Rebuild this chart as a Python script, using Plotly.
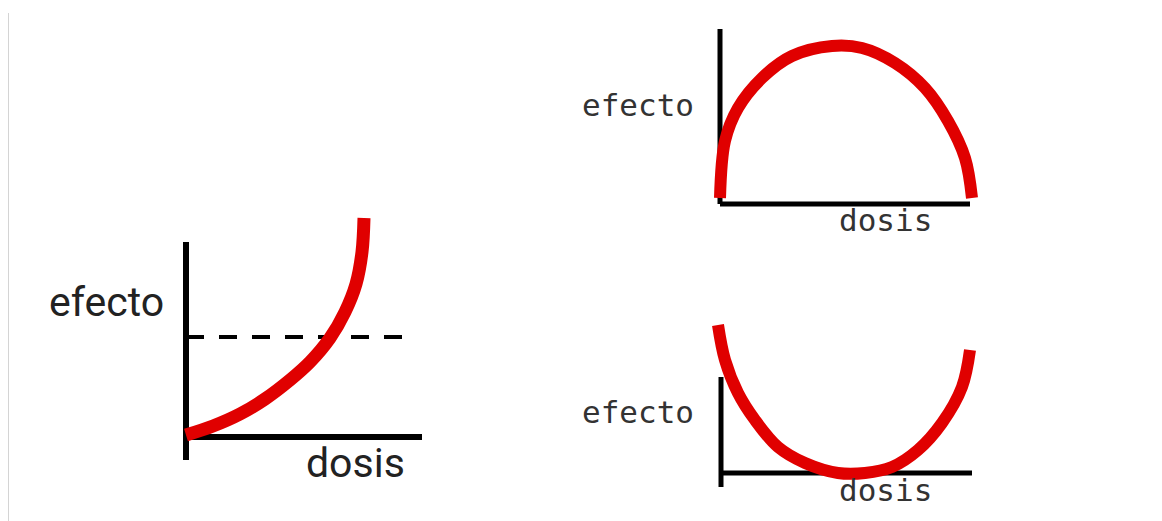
import plotly.graph_objects as go

W, H = 1162, 521
PAGE = 8  # margen del body en la pagina html

# Panel A: efecto creciente con umbral
dosis_a = [0, 1.35, 2.7, 3.95, 5.2, 6.2, 7.2, 7.95, 8.5, 8.8, 8.9]
efecto_a = [0.1, 0.55, 1.15, 1.9, 2.85, 3.75, 4.95, 6.25, 7.65, 9.25, 10.95]
umbral_a = 5.0
eje_x_a = [0, 11.8]
eje_y_a = [-1.15, 9.75]
umbral_x_a = [0, 11.35]

# Panel B: curva en campana invertida (maximo)
dosis_b = [0, 0.25, 0.9, 2.1, 3.6, 5.6, 7.1, 8.75, 10.25, 11.4, 12.25, 12.6]
efecto_b = [0.3, 3.15, 4.8, 6.3, 7.4, 7.9, 7.8, 7.05, 5.8, 4.15, 2.3, 0.3]
eje_x_b = [0, 12.5]
eje_y_b = [0, 8.75]

# Panel C: curva en U (minimo)
dosis_c = [-0.15, 0.2, 0.85, 1.7, 2.85, 4.2, 5.85, 7.2, 8.55, 9.85, 11.05, 12.05, 12.45]
efecto_c = [7.4, 5.65, 4.0, 2.65, 1.3, 0.5, 0.0, 0.0, 0.3, 1.15, 2.5, 4.3, 6.15]
eje_x_c = [0, 12.55]
eje_y_c = [-0.7, 4.8]

S = 20  # px por unidad


def px2paper(px, py):
    return (px - PAGE) / W, 1 - (py - PAGE) / H


# (origen px, caja px x0, x1, y0, y1)
panels = {
    "": dict(origin=(186, 437), box=(150, 440, 200, 480)),
    "2": dict(origin=(720, 204), box=(700, 990, 15, 240)),
    "3": dict(origin=(721, 473), box=(700, 990, 300, 505)),
}

RED = "rgb(224,0,0)"
BLACK = "#000000"

fig = go.Figure()


def add_panel(suffix, dx, ey, ax_x, ax_y, red_w, ax_w):
    xa = "x" + suffix
    ya = "y" + suffix
    fig.add_trace(go.Scatter(x=ax_x, y=[0, 0], mode="lines",
                             line=dict(color=BLACK, width=ax_w),
                             xaxis=xa, yaxis=ya, hoverinfo="skip"))
    fig.add_trace(go.Scatter(x=[0, 0], y=ax_y, mode="lines",
                             line=dict(color=BLACK, width=ax_w),
                             xaxis=xa, yaxis=ya, hoverinfo="skip"))
    fig.add_trace(go.Scatter(x=dx, y=ey, mode="lines",
                             line=dict(color=RED, width=red_w, shape="spline", smoothing=1.0),
                             xaxis=xa, yaxis=ya, hoverinfo="skip"))


# umbral (linea discontinua) en panel A
fig.add_trace(go.Scatter(x=umbral_x_a, y=[umbral_a, umbral_a], mode="lines",
                         line=dict(color=BLACK, width=4, dash="18px,15px"),
                         xaxis="x", yaxis="y", hoverinfo="skip"))
add_panel("", dosis_a, efecto_a, eje_x_a, eje_y_a, 13, 6)
add_panel("2", dosis_b, efecto_b, eje_x_b, eje_y_b, 12, 5)
add_panel("3", dosis_c, efecto_c, eje_x_c, eje_y_c, 12, 5)

layout = dict(
    width=W, height=H,
    margin=dict(l=0, r=0, t=0, b=0),
    paper_bgcolor="white", plot_bgcolor="rgba(0,0,0,0)",
    showlegend=False,
)
for suffix, p in panels.items():
    ox, oy = p["origin"]
    x0, x1, y0, y1 = p["box"]
    px0, py1 = px2paper(x0, y1)
    px1, py0 = px2paper(x1, y0)
    ax = dict(visible=False, fixedrange=True)
    layout["xaxis" + suffix] = dict(
        ax, domain=[px0, px1],
        range=[(x0 - ox) / S, (x1 - ox) / S],
        anchor="y" + suffix)
    layout["yaxis" + suffix] = dict(
        ax, domain=[py1, py0],
        range=[(oy - y1) / S, (oy - y0) / S],
        anchor="x" + suffix)
fig.update_layout(**layout)

# etiquetas
big = dict(family="Roboto, Liberation Sans, sans-serif", size=41, color="#222222")
wide = dict(family="DejaVu Sans Mono, monospace", size=31, color="#333333")
labels = [
    ("efecto", 106, 302, big),
    ("dosis", 355, 463, big),
    ("efecto", 638, 105, wide),
    ("dosis", 885, 220, wide),
    ("efecto", 638, 412, wide),
    ("dosis", 885, 490, wide),
]
for txt, px, py, f in labels:
    ax_, ay_ = px2paper(px, py)
    fig.add_annotation(text=txt, x=ax_, y=ay_, xref="paper", yref="paper",
                       showarrow=False, font=f, xanchor="center", yanchor="middle")

# borde gris a la izquierda
gx, gy = px2paper(8, 13)
fig.add_shape(type="line", xref="paper", yref="paper",
              x0=gx, x1=gx, y0=0, y1=gy,
              line=dict(color="#d4d4d4", width=2))

fig.write_html("out.html")
